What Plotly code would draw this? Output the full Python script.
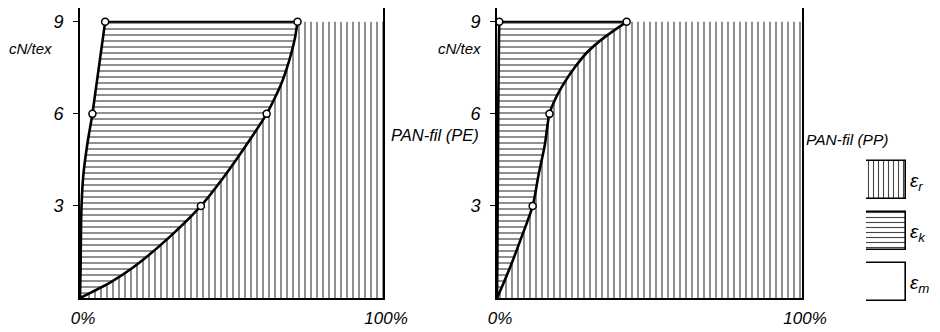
import plotly.graph_objects as go

# ---------------- data ----------------
strength = [0, 0.5, 1, 2, 3, 4, 5, 6, 6.5, 7, 7.5, 8, 8.5, 9]          # cN/tex
# cumulative share of elongation (%) : boundary eps_m | eps_k  and  eps_k | eps_r
pe_em = [0, 0.1, 0.2, 0.3, 0.5, 1.1, 2.4, 4.1, 4.8, 5.5, 6.2, 6.9, 7.6, 8.3]
pe_emk = [0, 9.9, 17.6, 29.7, 39.9, 47.9, 55.0, 61.6, 64.2, 66.5, 68.3, 69.8, 71.0, 71.8]
pp_em = [0, 0.05, 0.1, 0.15, 0.2, 0.3, 0.35, 0.4, 0.45, 0.5, 0.55, 0.6, 0.65, 0.75]
pp_emk = [0, 2.2, 4.3, 8.1, 11.7, 13.6, 15.7, 17.2, 19.2, 22.0, 25.4, 29.5, 35.3, 42.5]
total = 100

pe_em_marked = [6, 9]
pe_emk_marked = [3, 6, 9]
pp_em_marked = [9]
pp_emk_marked = [3, 6, 9]

panel_labels = ["PAN-fil (PE)", "PAN-fil (PP)"]
y_ticks = [3, 6, 9]
x_ticks = [0, 100]
x_ticktext = ["0%", "100%"]
legend_names = ["ε<sub>m</sub>", "ε<sub>k</sub>", "ε<sub>r</sub>"]
legend_patterns = ["", "-", "|"]

# ---------------- styling ----------------
PAGE_W, PAGE_H = 940, 332
BODY = 8                      # default page margin of the html body
W, H = PAGE_W - BODY, PAGE_H - BODY
FONT = "Liberation Sans"
HATCH = "#454545"


def px_x(p):
    return (p - BODY) / W


def px_y(p):
    return 1 - (p - BODY) / H


fig = go.Figure()


def add_panel(em, emk, em_marked, emk_marked, xa, ya):
    # eps_k region (horizontal hatching)
    fig.add_trace(go.Scatter(
        x=em + emk[::-1], y=strength + strength[::-1], fill="toself",
        mode="none", fillcolor="white",
        fillpattern=dict(shape="-", size=6, solidity=0.2, fgcolor=HATCH, bgcolor="white"),
        xaxis=xa, yaxis=ya, showlegend=False, hoverinfo="skip"))
    # eps_r region (vertical hatching)
    fig.add_trace(go.Scatter(
        x=emk + [total, total], y=strength + [strength[-1], strength[0]], fill="toself",
        mode="none", fillcolor="white",
        fillpattern=dict(shape="|", size=6, solidity=0.2, fgcolor=HATCH, bgcolor="white"),
        xaxis=xa, yaxis=ya, showlegend=False, hoverinfo="skip"))
    # top border of eps_k region
    fig.add_trace(go.Scatter(
        x=[em[-1], emk[-1]], y=[strength[-1], strength[-1]], mode="lines",
        line=dict(color="black", width=2), xaxis=xa, yaxis=ya,
        showlegend=False, hoverinfo="skip"))
    # boundary curves
    for curve in (em, emk):
        fig.add_trace(go.Scatter(
            x=curve, y=strength, mode="lines",
            line=dict(color="black", width=2.6, shape="spline", smoothing=0.8),
            xaxis=xa, yaxis=ya, showlegend=False, hoverinfo="skip"))
    # measured points
    for curve, marked in ((em, em_marked), (emk, emk_marked)):
        idx = [strength.index(s) for s in marked]
        fig.add_trace(go.Scatter(
            x=[curve[i] for i in idx], y=[strength[i] for i in idx], mode="markers",
            marker=dict(size=7, color="white", line=dict(color="black", width=1.5)),
            xaxis=xa, yaxis=ya, showlegend=False, hoverinfo="skip"))


add_panel(pe_em, pe_emk, pe_em_marked, pe_emk_marked, "x", "y")
add_panel(pp_em, pp_emk, pp_em_marked, pp_emk_marked, "x2", "y2")

# legend boxes
fig.add_trace(go.Bar(
    y=[0, 1, 2], x=[1, 1, 1], orientation="h", width=0.75,
    marker=dict(color="white", line=dict(color="black", width=1.6),
                pattern=dict(shape=legend_patterns, size=5, solidity=0.22,
                             fgcolor=HATCH, bgcolor="white")),
    xaxis="x3", yaxis="y3", showlegend=False, hoverinfo="skip"))

tickfont = dict(family=FONT, size=18, color="black", style="italic")
xtickfont = dict(family=FONT, size=17, color="black", style="italic")

y_dom = [px_y(298), px_y(8)]
common_x = dict(range=[0, total], showline=True, linecolor="black", linewidth=2,
                showgrid=False, zeroline=False, ticks="", tickvals=x_ticks,
                ticktext=x_ticktext, tickfont=xtickfont, ticklabelstandoff=4,
                ticklabelshift=3, automargin=False)
common_y = dict(range=[0, 9.45], showline=True, linecolor="black", linewidth=2,
                mirror=True, showgrid=False, zeroline=False, ticks="outside",
                ticklen=5, tickwidth=1.2, tickcolor="black", tickvals=y_ticks,
                tickfont=tickfont, ticklabelstandoff=6, domain=y_dom,
                automargin=False)

fig.update_layout(
    template="none",
    width=W, height=H, margin=dict(l=0, r=0, t=0, b=0, pad=0, autoexpand=False),
    paper_bgcolor="white", plot_bgcolor="rgba(0,0,0,0)",
    font=dict(family=FONT, color="black"),
    xaxis=dict(domain=[px_x(80), px_x(383)], anchor="y", **common_x),
    yaxis=dict(anchor="x", **common_y),
    xaxis2=dict(domain=[px_x(497), px_x(802)], anchor="y2", **common_x),
    yaxis2=dict(anchor="x2", **common_y),
    xaxis3=dict(domain=[px_x(866), px_x(906)], anchor="y3", range=[0, 1],
                visible=False, fixedrange=True, automargin=False),
    yaxis3=dict(domain=[px_y(307.5), px_y(155)], anchor="x3", range=[-0.5, 2.5],
                side="right", showline=False, showgrid=False, zeroline=False,
                ticks="", tickvals=[0, 1, 2], ticktext=legend_names,
                tickfont=dict(family=FONT, size=19, color="black", style="italic"),
                ticklabelstandoff=3, automargin=False),
    bargap=0,
)

ann_font = dict(family=FONT, size=15, color="black", style="italic")
fig.add_annotation(x=px_x(54), y=px_y(48), xref="paper", yref="paper", text="cN/tex",
                   showarrow=False, xanchor="right", yanchor="middle", font=ann_font)
fig.add_annotation(x=px_x(483), y=px_y(48), xref="paper", yref="paper", text="cN/tex",
                   showarrow=False, xanchor="right", yanchor="middle", font=ann_font)
fig.add_annotation(x=px_x(389), y=px_y(135), xref="paper", yref="paper", text=panel_labels[0],
                   showarrow=False, xanchor="left", yanchor="middle",
                   font=dict(family=FONT, size=16.5, color="black", style="italic"))
fig.add_annotation(x=px_x(804), y=px_y(139), xref="paper", yref="paper", text=panel_labels[1],
                   showarrow=False, xanchor="left", yanchor="middle",
                   font=dict(family=FONT, size=15.5, color="black", style="italic"))

fig.write_html("out.html")
